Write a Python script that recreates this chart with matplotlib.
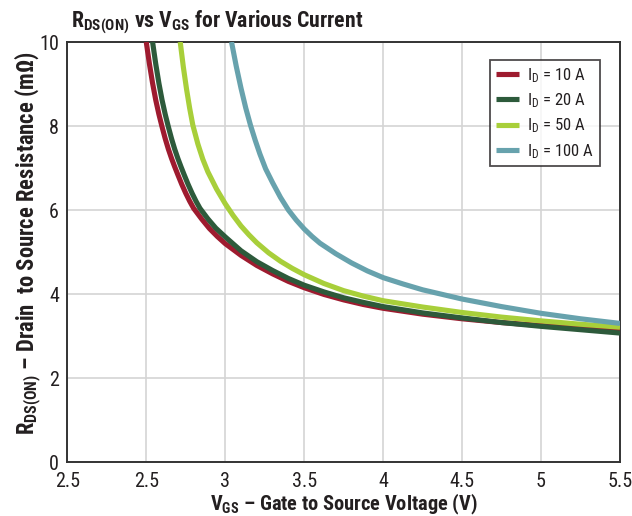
import matplotlib
matplotlib.use("Agg")
import matplotlib.pyplot as plt
from matplotlib import font_manager as fm

# ---- data ----
v_10a = [2.50, 2.52, 2.54, 2.56, 2.58, 2.60, 2.62, 2.64, 2.66, 2.68, 2.70, 2.725, 2.75, 2.775, 2.80,
         2.85, 2.90, 2.95, 3.00, 3.10, 3.20, 3.30, 3.40, 3.50, 3.625, 3.75, 3.875, 4.00,
         4.25, 4.50, 4.75, 5.00, 5.25, 5.50]
r_10a = [10.0, 9.48, 9.02, 8.62, 8.28, 7.98, 7.70, 7.45, 7.23, 7.03, 6.84, 6.61, 6.40, 6.21, 6.04,
         5.79, 5.56, 5.37, 5.20, 4.92, 4.68, 4.48, 4.30, 4.15, 3.99, 3.86, 3.75, 3.66,
         3.52, 3.41, 3.32, 3.25, 3.19, 3.14]

v_20a = [2.54, 2.56, 2.58, 2.60, 2.62, 2.64, 2.66, 2.68, 2.70, 2.72, 2.74, 2.765, 2.79, 2.815, 2.84,
         2.89, 2.94, 3.00, 3.10, 3.20, 3.30, 3.40, 3.50, 3.625, 3.75, 3.875, 4.00,
         4.25, 4.50, 4.75, 5.00, 5.25, 5.50]
r_20a = [10.0, 9.48, 9.02, 8.62, 8.28, 7.98, 7.70, 7.45, 7.23, 7.03, 6.84, 6.61, 6.40, 6.21, 6.04,
         5.79, 5.57, 5.36, 5.03, 4.77, 4.56, 4.37, 4.21, 4.05, 3.91, 3.80, 3.70,
         3.55, 3.43, 3.32, 3.23, 3.15, 3.07]

v_50a = [2.715, 2.735, 2.755, 2.775, 2.795, 2.827, 2.858, 2.89, 2.945, 3.00, 3.05, 3.10, 3.15, 3.20,
         3.275, 3.35, 3.425, 3.50, 3.625, 3.75, 3.875, 4.00, 4.25, 4.50, 4.75, 5.00, 5.25, 5.50]
r_50a = [10.0, 9.40, 8.88, 8.42, 8.02, 7.57, 7.21, 6.91, 6.50, 6.15, 5.87, 5.62, 5.41, 5.22,
         4.98, 4.78, 4.61, 4.46, 4.25, 4.08, 3.95, 3.84, 3.69, 3.56, 3.45, 3.36, 3.28, 3.21]

v_100a = [3.04, 3.07, 3.10, 3.13, 3.16, 3.19, 3.22, 3.256, 3.30, 3.35, 3.40, 3.45, 3.50, 3.55,
          3.60, 3.70, 3.80, 3.90, 4.00, 4.125, 4.25, 4.50, 4.75, 5.00, 5.25, 5.50]
r_100a = [10.0, 9.42, 8.90, 8.43, 8.02, 7.66, 7.33, 6.98, 6.65, 6.30, 6.00, 5.76, 5.55, 5.37,
          5.21, 4.96, 4.74, 4.55, 4.39, 4.24, 4.10, 3.88, 3.70, 3.54, 3.41, 3.30]

series_labels = ["10 A", "20 A", "50 A", "100 A"]
x_ticks = [2.0, 2.5, 3.0, 3.5, 4.0, 4.5, 5.0, 5.5]
x_tick_labels = ["2.5", "2.5", "3", "3.5", "4", "4.5", "5", "5.5"]
y_ticks = [0, 2, 4, 6, 8, 10]
y_tick_labels = ["0", "2", "4", "6", "8", "10"]

colors = ["#9e1b2f", "#2d5a3b", "#a8cf3a", "#67a2ad"]
TXT = "#231f20"

# ---- choose a condensed font if one is installed ----
entries = fm.fontManager.ttflist
names = {f.name for f in entries}
fam, stretch = None, "normal"
for cand in ["Liberation Sans Narrow", "Roboto Condensed", "Open Sans Condensed",
             "Noto Sans Condensed", "DejaVu Sans Condensed"]:
    if cand in names:
        fam = cand
        break
if fam is None:
    for f in entries:
        if f.name == "DejaVu Sans" and str(f.stretch) in ("condensed", "semi-condensed"):
            fam, stretch = "DejaVu Sans", "condensed"
            break
if fam is None:
    for f in entries:
        n = f.name.lower()
        if "condensed" in n or "narrow" in n:
            fam = f.name
            break
if fam is None:
    fam = "Roboto"

plt.rcParams["font.family"] = [fam, "DejaVu Sans"]
plt.rcParams["font.stretch"] = stretch
plt.rcParams["mathtext.fontset"] = "custom"
sfx = ":condensed" if stretch == "condensed" else ""
plt.rcParams["mathtext.rm"] = fam + sfx
plt.rcParams["mathtext.bf"] = fam + ":bold" + sfx
plt.rcParams["mathtext.it"] = fam + ":italic" + sfx

W, H = 632, 516
fig = plt.figure(figsize=(W / 100, H / 100), dpi=100)
L, R, T, B = 67.3, 620.0, 42.0, 462.0
ax = fig.add_axes([L / W, 1 - B / H, (R - L) / W, (B - T) / H])

xs = [v_10a, v_20a, v_50a, v_100a]
ys = [r_10a, r_20a, r_50a, r_100a]
for x, y, c, lab in zip(xs, ys, colors, series_labels):
    ax.plot(x, y, color=c, lw=3.7, solid_capstyle="butt", solid_joinstyle="round",
            label=r"I$_\mathrm{D}$ = " + lab, zorder=3)

ax.set_xlim(2.0, 5.5)
ax.set_ylim(0, 10)
ax.set_xticks(x_ticks)
ax.set_xticklabels(x_tick_labels)
ax.set_yticks(y_ticks)
ax.set_yticklabels(y_tick_labels)
ax.tick_params(length=0, labelsize=14.5, colors=TXT)
ax.tick_params(axis="x", pad=7.5)
ax.tick_params(axis="y", pad=6)
ax.grid(True, color="#d4d4d4", lw=1.2)
ax.set_axisbelow(True)
for s in ax.spines.values():
    s.set_color("#333333")
    s.set_linewidth(1.4)

title = fig.text(71 / W, 1 - 27 / H,
                 r"$\mathbf{R_{DS(ON)}}$ vs $\mathbf{V_{GS}}$ for Various Current",
                 fontsize=16, fontweight="bold", color=TXT, ha="left", va="baseline")
xlab = fig.text((L + R) / 2 / W, 1 - 510 / H,
                r"$\mathbf{V_{GS}}$ – Gate to Source Voltage (V)",
                fontsize=15, fontweight="bold", color=TXT, ha="center", va="baseline")
ylab = fig.text(28 / W, 1 - 243 / H,
                r"$\mathbf{R_{DS(ON)}}$ – Drain  to Source Resistance (m$\mathbf{\Omega}$)",
                fontsize=15, fontweight="bold", color=TXT, ha="center", va="center",
                rotation=90)

leg = ax.legend(loc="upper right", bbox_to_anchor=((600 - L) / (R - L), (B - 60) / (B - T)),
                borderaxespad=0, fontsize=12, frameon=True, fancybox=False,
                edgecolor=TXT, handlelength=1.4, handletextpad=0.5, borderpad=0.35,
                labelspacing=0.4)
leg.get_frame().set_linewidth(1.3)
for t in leg.get_texts():
    t.set_color(TXT)

# ---- fit text sizes to the widths measured on the reference ----
fig.canvas.draw()
rend = fig.canvas.get_renderer()

def fit(t, target, horiz=True):
    bb = t.get_window_extent(rend)
    cur = bb.width if horiz else bb.height
    if cur > 0:
        t.set_fontsize(t.get_fontsize() * target / cur)

fit(title, 292)
fit(xlab, 268)
fit(ylab, 385, horiz=False)

fig.savefig("out.png", dpi=100)
